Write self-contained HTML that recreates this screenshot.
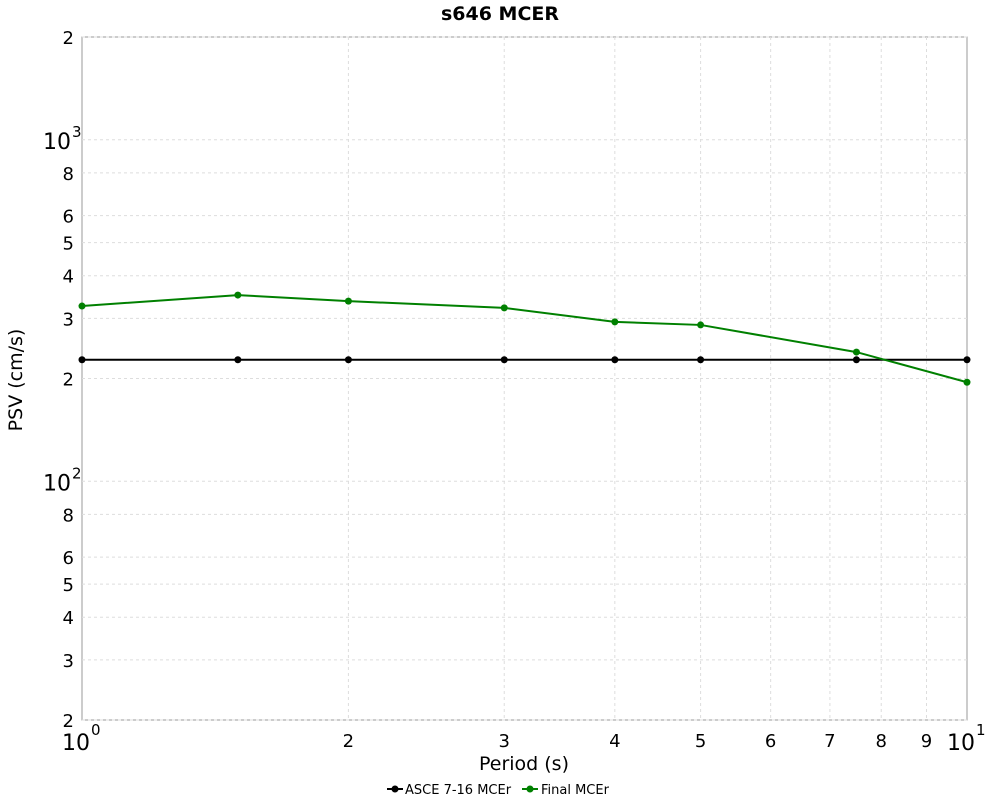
<!DOCTYPE html>
<html><head><meta charset="utf-8"><style>
html,body{margin:0;padding:0;background:#fff;}
svg{display:block;font-family:"DejaVu Sans","Liberation Sans",sans-serif;}
</style></head><body>
<svg id="chart" width="1000" height="800" viewBox="0 0 1000 800" xmlns="http://www.w3.org/2000/svg">
<text x="500" y="20" text-anchor="middle" font-size="19" font-weight="bold">s646 MCER</text>
<rect x="82" y="37" width="885" height="683" fill="#fff" stroke="#999" stroke-width="1"/>
<g id="grid"></g>
<g id="yticks"></g>
<g id="xticks"></g>
<g id="series"></g>
<text x="524" y="770" text-anchor="middle" font-size="19">Period (s)</text>
<text transform="translate(22,380) rotate(-90)" text-anchor="middle" font-size="19">PSV (cm/s)</text>
<g>
<g>
<line x1="387" y1="789" x2="403" y2="789" stroke="#000" stroke-width="2"/><circle cx="395" cy="789" r="3.5" fill="#000"/>
<text x="405" y="794" font-size="13">ASCE 7-16 MCEr</text></g>
<g>
<line x1="522" y1="789" x2="538" y2="789" stroke="#008000" stroke-width="2"/><circle cx="530" cy="789" r="3.5" fill="#008000"/>
<text x="541" y="794" font-size="13">Final MCEr</text></g>
</g>
</svg>
<script>
const periods = [1, 1.5, 2, 3, 4, 5, 7.5, 10];
const asceValues = [227, 227, 227, 227, 227, 227, 227, 227];
const finalValues = [326, 351, 337, 322, 293, 287, 239, 195];
const yTickValues = [20, 30, 40, 50, 60, 80, 200, 300, 400, 500, 600, 800, 2000];
const yTickLabels = ["2", "3", "4", "5", "6", "8", "2", "3", "4", "5", "6", "8", "2"];
const yDecades = [100, 1000];
const xTickValues = [2, 3, 4, 5, 6, 7, 8, 9];
const xTickLabels = ["2", "3", "4", "5", "6", "7", "8", "9"];

const X0 = 82, X1 = 967, Y0 = 720, Y1 = 37;
const xMin = 1, xMax = 10, yMin = 20, yMax = 2000;
function xs(v){ return X0 + (Math.log10(v) - Math.log10(xMin)) / (Math.log10(xMax) - Math.log10(xMin)) * (X1 - X0); }
function ys(v){ return Y0 - (Math.log10(v) - Math.log10(yMin)) / (Math.log10(yMax) - Math.log10(yMin)) * (Y0 - Y1); }
const NS = "http://www.w3.org/2000/svg";
function mk(tag, attrs, parent){ const e = document.createElementNS(NS, tag); for (const k in attrs) e.setAttribute(k, attrs[k]); parent.appendChild(e); return e; }
const grid = document.getElementById('grid');
const yt = document.getElementById('yticks');
const xt = document.getElementById('xticks');
const ser = document.getElementById('series');

const allY = yTickValues.concat(yDecades);
allY.forEach(v => {
  const y = ys(v);
  const g = mk('line', {x1: X0, x2: X1, y1: y, y2: y, stroke: '#ddd', 'stroke-dasharray': '3,3', 'stroke-width': 1}, grid);
  
  
});
yTickValues.forEach((v, i) => {
  const t = mk('text', {x: 74, y: ys(v) + 7, 'text-anchor': 'end', 'font-size': 18}, yt);
  t.textContent = yTickLabels[i];
  
  
});
yDecades.forEach(v => {
  const g = mk('text', {x: 43, y: ys(v) + 9, 'font-size': 22}, yt);
  
  
  g.textContent = '10';
  const s = mk('tspan', {dx: 1, dy: -12, 'font-size': 15}, g);
  s.textContent = String(Math.round(Math.log10(v)));
});
xTickValues.forEach((v, i) => {
  const x = xs(v);
  const g = mk('line', {x1: x, x2: x, y1: Y1, y2: Y0, stroke: '#ddd', 'stroke-dasharray': '3,3', 'stroke-width': 1}, grid);
  
  
  const t = mk('text', {x: x, y: 747, 'text-anchor': 'middle', 'font-size': 18}, xt);
  t.textContent = xTickLabels[i];
  
  
});
[[xMin, '0'], [xMax, '1']].forEach(([v, e]) => {
  const x = xs(v);
  const t = mk('text', {x: x - 20, y: 750, 'font-size': 22}, xt);
  
  
  t.textContent = '10';
  const s = mk('tspan', {dx: 1, dy: -15, 'font-size': 15}, t);
  s.textContent = e;
});

function drawSeries(vals, color, name){
  const g = mk('g', {}, ser);
  
  
  const pts = periods.map((p, i) => xs(p) + ',' + ys(vals[i])).join(' ');
  const pl = mk('polyline', {points: pts, fill: 'none', stroke: color, 'stroke-width': 2}, g);
  
  
  periods.forEach((p, i) => {
    const c = mk('circle', {cx: xs(p), cy: ys(vals[i]), r: 3.5, fill: color}, g);
    
    
  });
}
drawSeries(asceValues, '#000', 'asce-series');
drawSeries(finalValues, '#008000', 'final-series');
</script>
</body></html>
